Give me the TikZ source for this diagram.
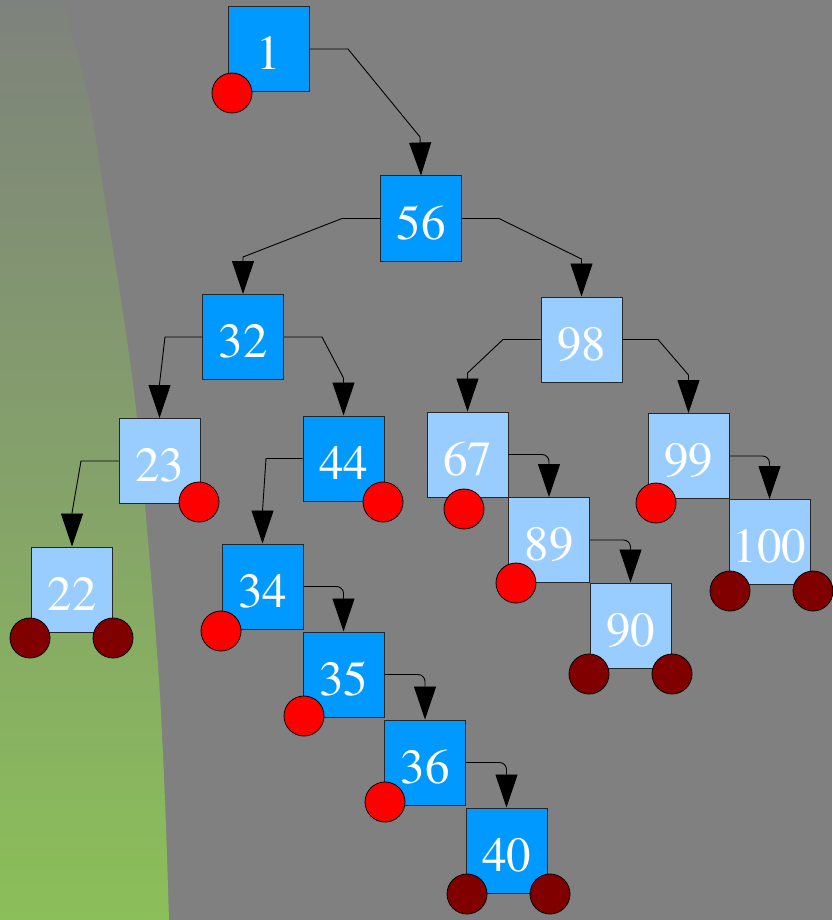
\documentclass[tikz,border=0pt]{standalone}
\usepackage{fontspec}
\newfontfamily\boxfont{TeX Gyre Termes}
\usetikzlibrary{arrows.meta}
\definecolor{bggray}{RGB}{128,128,128}
\definecolor{darkbox}{RGB}{0,153,255}
\definecolor{lightbox}{RGB}{153,204,255}
\definecolor{leafred}{RGB}{255,0,0}
\definecolor{nilred}{RGB}{128,0,0}
\definecolor{greentop}{RGB}{126,130,124}
\definecolor{greenbot}{RGB}{139,191,89}
\tikzset{
  treebox/.style={draw=black!85, line width=1pt, minimum width=81pt, minimum height=85pt,
    inner sep=0pt, text=white, font=\boxfont\fontsize{49}{49}\selectfont, text height=41pt, text depth=0pt},
  darkbox/.style={treebox, fill=darkbox},
  lightbox/.style={treebox, fill=lightbox},
  redball/.style={circle, draw=black, line width=0.8pt, fill=leafred, minimum size=40pt, inner sep=0pt},
  nilball/.style={circle, draw=black, line width=0.8pt, fill=nilred, minimum size=40pt, inner sep=0pt},
  link/.style={draw=black, line width=0.9pt, -{Triangle[width=22pt,length=33pt]}},
  elbow/.style={link, rounded corners=7pt}
}
\begin{document}
\begin{tikzpicture}[x=1pt,y=-1pt]
\useasboundingbox (0,0) rectangle (832,920);
\fill[bggray] (0,0) rectangle (832,920);
\shade[top color=greentop, bottom color=greenbot]
  (0,0) -- plot[smooth] coordinates {(63,0) (89,100) (105,200) (121,300) (135,400) (148,540) (159,680) (165,800) (169,920)} -- (0,920) -- cycle;

% boxes
\node[darkbox]  (n1)   at (268.5,49)   {1};
\node[darkbox]  (n56)  at (421,218.5)  {56};
\node[darkbox]  (n32)  at (243,337)    {32};
\node[lightbox] (n98)  at (581.5,339.5){98};
\node[lightbox] (n23)  at (159.5,461)  {23};
\node[darkbox]  (n44)  at (343.5,458.5){44};
\node[lightbox] (n67)  at (467.5,454.5){67};
\node[lightbox] (n99)  at (688.5,456)  {99};
\node[lightbox] (n22)  at (72,589.5)   {22};
\node[darkbox]  (n34)  at (262.5,586.5){34};
\node[lightbox] (n89)  at (549,540)    {89};
\node[lightbox] (n100) at (769.5,542)  {100};
\node[darkbox]  (n35)  at (343.5,674.5){35};
\node[lightbox] (n90)  at (630.5,625.5){90};
\node[darkbox]  (n36)  at (425,762.5)  {36};
\node[darkbox]  (n40)  at (506.5,850.5){40};

% connectors
\draw[link] (n1.east) -- (348,49) -- (420,137) -- (n56.north);
\draw[link] (n56.west) -- (342,218.5) -- (243,257) -- (n32.north);
\draw[link] (n56.east) -- (499,218.5) -- (581.5,259) -- (n98.north);
\draw[link] (n32.west) -- (165,337) -- (159.5,384) -- (n23.north);
\draw[link] (n32.east) -- (322,337) -- (343.5,378) -- (n44.north);
\draw[link] (n98.west) -- (503,339.5) -- (467.5,373) -- (n67.north);
\draw[link] (n98.east) -- (658,339.5) -- (688.5,375) -- (n99.north);
\draw[link] (n23.west) -- (81,461) -- (72,513) -- (n22.north);
\draw[link] (n44.west) -- (266,458.5) -- (262.5,511) -- (n34.north);
\draw[elbow] (n67.east) -| (n89.north);
\draw[elbow] (n89.east) -| (n90.north);
\draw[elbow] (n99.east) -| (n100.north);
\draw[elbow] (n34.east) -| (n35.north);
\draw[elbow] (n35.east) -| (n36.north);
\draw[elbow] (n36.east) -| (n40.north);

% balls
\node[redball] (c1)  at (232,93)  {};
\node[redball] (c23) at (199,502) {};
\node[redball] (c44) at (383,502) {};
\node[redball] (c67) at (464,509) {};
\node[redball] (c89) at (516,583) {};
\node[redball] (c99) at (656,503) {};
\node[redball] (c34) at (221,631) {};
\node[redball] (c35) at (304,716) {};
\node[redball] (c36) at (385,802) {};
\node[nilball] (c22a)  at (30,638)  {};
\node[nilball] (c22b)  at (113,638) {};
\node[nilball] (c100a) at (730,591) {};
\node[nilball] (c100b) at (813,591) {};
\node[nilball] (c90a)  at (589,674) {};
\node[nilball] (c90b)  at (672,674) {};
\node[nilball] (c40a)  at (467,894) {};
\node[nilball] (c40b)  at (550,894) {};
\end{tikzpicture}
\end{document}
